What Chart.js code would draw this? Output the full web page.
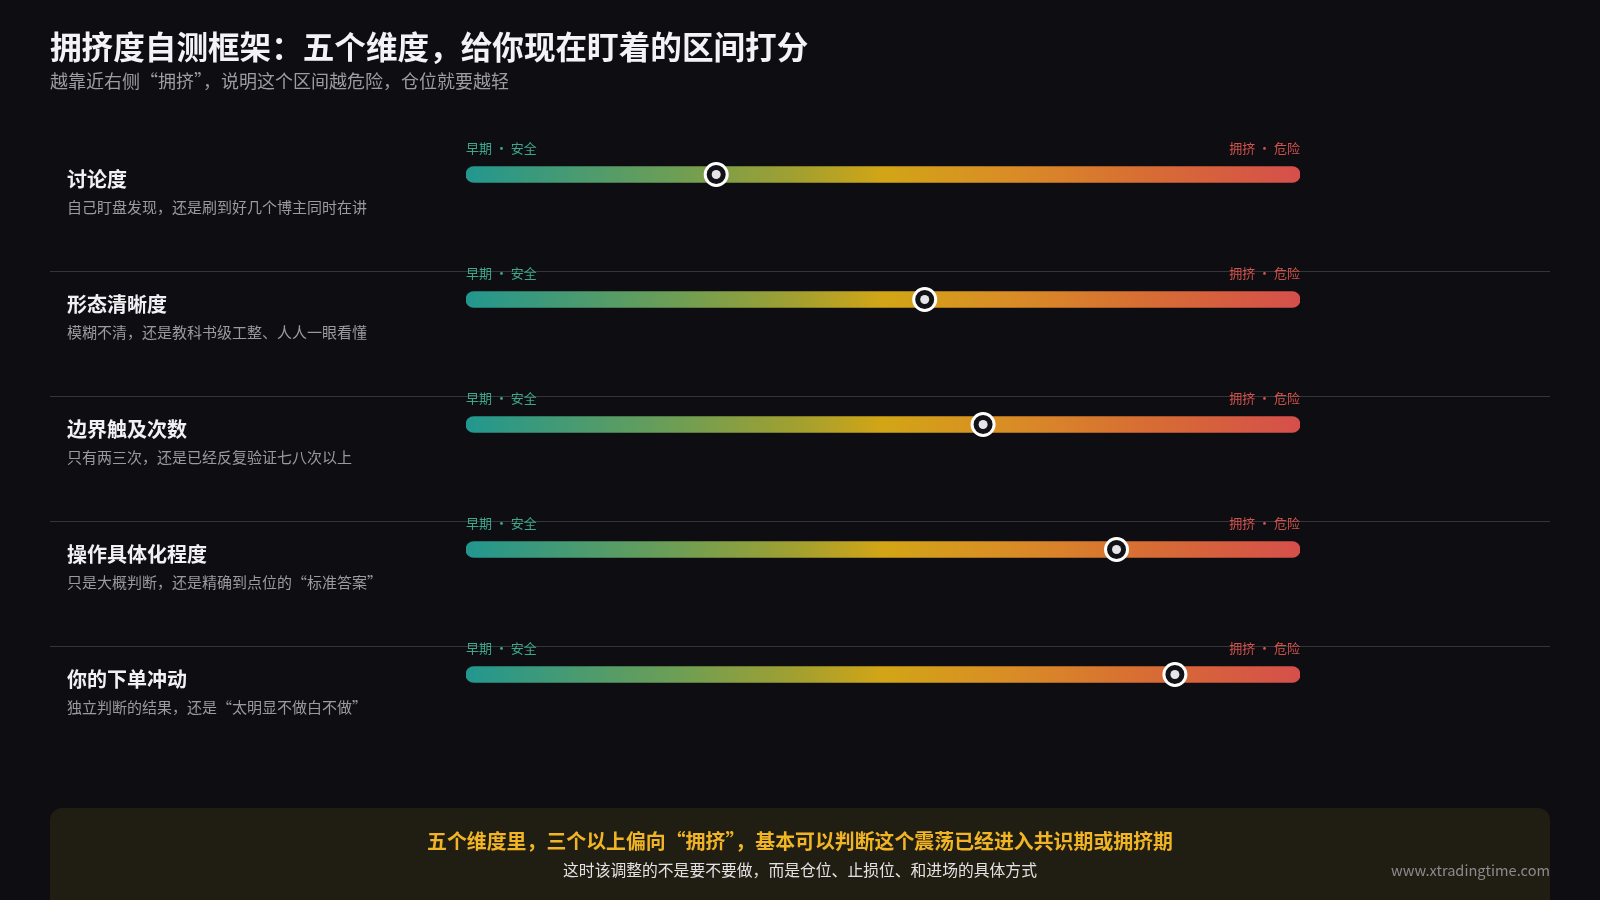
<!DOCTYPE html>
<html lang="zh-CN">

<head>
    <meta charset="UTF-8" />
    <script src="https://cdn.jsdelivr.net/npm/chart.js"></script>
    <title>拥挤度自测框架</title>
    <style>
        html, body {
            margin: 0;
            padding: 0;
            width: 1600px;
            height: 900px;
            overflow: hidden;
            background: #0e0e12;
            font-family: "Noto Sans CJK SC", "Noto Sans", sans-serif;
        }

        .stage {
            position: absolute;
            left: 0;
            top: 0;
            width: 1600px;
            height: 900px;
        }

        .txt {
            position: absolute;
            line-height: 1;
            white-space: nowrap;
        }

        .title {
            left: 50px;
            top: 30px;
            font-size: 31.6px;
            font-weight: bold;
            color: #f3f3f5;
        }

        .subtitle {
            left: 50px;
            top: 71px;
            font-size: 18px;
            color: #9c9ca3;
        }

        .summary {
            position: absolute;
            left: 50px;
            top: 808px;
            width: 1500px;
            height: 130px;
            border-radius: 12px;
            background: #201d12;
        }

        .summary .main {
            left: 0;
            width: 1500px;
            text-align: center;
            top: 23px;
            font-size: 19.9px;
            font-weight: bold;
            color: #f0b425;
        }

        .summary .sub {
            left: 0;
            width: 1500px;
            text-align: center;
            top: 54px;
            font-size: 15.8px;
            color: #e2e2e2;
        }

        .summary .site {
            right: 0;
            top: 55px;
            font-size: 14.6px;
            color: #8b8b8f;
        }
    </style>
</head>

<body>
    <div class="stage"><canvas id="CrowdChart"></canvas></div>

    <div class="txt title">拥挤度自测框架：五个维度，给你现在盯着的区间打分</div>
    <div class="txt subtitle">越靠近右侧“拥挤”，说明这个区间越危险，仓位就要越轻</div>

    <div class="summary">
        <div class="txt main">五个维度里，三个以上偏向“拥挤”，基本可以判断这个震荡已经进入共识期或拥挤期</div>
        <div class="txt sub">这时该调整的不是要不要做，而是仓位、止损位、和进场的具体方式</div>
        <div class="txt site">www.xtradingtime.com</div>
    </div>
</body>

</html>

<script>
    const dims = ['讨论度', '形态清晰度', '边界触及次数', '操作具体化程度', '你的下单冲动'];
    const dimNotes = [
        '自己盯盘发现，还是刷到好几个博主同时在讲',
        '模糊不清，还是教科书级工整、人人一眼看懂',
        '只有两三次，还是已经反复验证七八次以上',
        '只是大概判断，还是精确到点位的“标准答案”',
        '独立判断的结果，还是“太明显不做白不做”'
    ];
    const scores = [30, 55, 62, 78, 85];
    const trackFull = dims.map(() => 100);
    const scaleEnds = ['早期 · 安全', '拥挤 · 危险'];

    const FONT = '"Noto Sans CJK SC", "Noto Sans", sans-serif';

    function trackGradient(context) {
        const chart = context.chart;
        const area = chart.chartArea;
        if (!area) {
            return '#d2a516';
        }
        const g = chart.ctx.createLinearGradient(area.left, 0, area.right, 0);
        g.addColorStop(0, '#22978f');
        g.addColorStop(0.25, '#6c9e55');
        g.addColorStop(0.4, '#a3a02f');
        g.addColorStop(0.5, '#d2a516');
        g.addColorStop(0.65, '#d98d25');
        g.addColorStop(0.82, '#d76c34');
        g.addColorStop(1, '#d54f4b');
        return g;
    }

    // dividers, row names and end labels, placed from the y scale
    const rowText = {
        id: 'rowText',
        beforeDatasetsDraw(chart) {
            const c = chart.ctx;
            const y = chart.scales.y;
            c.save();
            c.strokeStyle = '#34343a';
            c.lineWidth = 1.2;
            for (let i = 1; i < dims.length; i++) {
                const py = Math.round(y.getPixelForValue(i) - 29) + 0.5;
                c.beginPath();
                c.moveTo(50, py);
                c.lineTo(1550, py);
                c.stroke();
            }
            c.restore();
        },
        afterDatasetsDraw(chart) {
            const c = chart.ctx;
            const y = chart.scales.y;
            const area = chart.chartArea;
            c.save();
            c.textBaseline = 'middle';
            dims.forEach((name, i) => {
                const py = y.getPixelForValue(i);

                c.textAlign = 'left';
                c.fillStyle = '#f1f1f3';
                c.font = 'bold 20px ' + FONT;
                c.fillText(name, 67, py + 5);

                c.fillStyle = '#9a9aa0';
                c.font = '15px ' + FONT;
                c.fillText(dimNotes[i], 67, py + 33);

                c.font = '13px ' + FONT;
                c.fillStyle = '#3ea88e';
                c.fillText(scaleEnds[0], area.left, py - 26);
                c.textAlign = 'right';
                c.fillStyle = '#d2524c';
                c.fillText(scaleEnds[1], area.right, py - 26);
            });
            c.restore();
        }
    };

    const ctx = document.getElementById('CrowdChart');

    const CrowdChart = new Chart(ctx, {
        data: {
            labels: dims,
            datasets: [
                {
                    type: 'line',
                    indexAxis: 'y',
                    data: scores,
                    showLine: false,
                    pointRadius: 4.5,
                    pointHoverRadius: 4.5,
                    pointBackgroundColor: '#e6e6ea',
                    pointBorderWidth: 0,
                    clip: false,
                    order: 1
                },
                {
                    type: 'line',
                    indexAxis: 'y',
                    data: scores,
                    showLine: false,
                    pointRadius: 11,
                    pointHoverRadius: 11,
                    pointBackgroundColor: '#121217',
                    pointBorderColor: '#ffffff',
                    pointBorderWidth: 3,
                    clip: false,
                    order: 2
                },
                {
                    type: 'bar',
                    indexAxis: 'y',
                    data: trackFull,
                    backgroundColor: trackGradient,
                    barThickness: 16,
                    borderRadius: 8,
                    borderSkipped: false,
                    order: 3
                }
            ]
        },
        options: {
            indexAxis: 'y',
            responsive: true,
            maintainAspectRatio: false,
            animation: false,
            events: [],
            layout: {
                padding: {
                    left: 466,
                    right: 300,
                    top: 112,
                    bottom: 163
                }
            },
            scales: {
                x: {
                    type: 'linear',
                    min: 0,
                    max: 100,
                    display: false
                },
                y: {
                    type: 'category',
                    offset: true,
                    display: false
                }
            },
            plugins: {
                legend: {
                    display: false
                },
                tooltip: {
                    enabled: false
                }
            }
        },
        plugins: [rowText]
    });
</script>
